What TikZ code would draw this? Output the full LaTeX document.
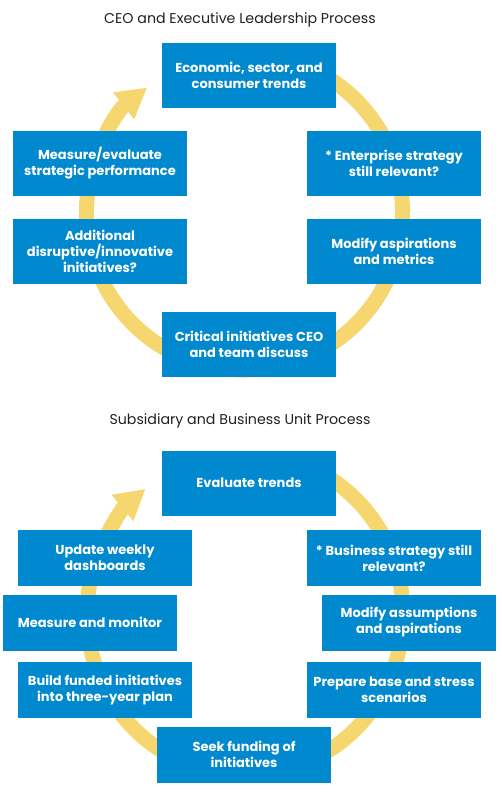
\documentclass[tikz,border=0pt]{standalone}
\usepackage{fontspec}
\setmainfont{Poppins}
\usetikzlibrary{arrows.meta}
\definecolor{boxblue}{RGB}{0,137,207}
\definecolor{ringyellow}{RGB}{246,214,110}
\definecolor{titlegray}{RGB}{35,31,32}

\begin{document}
\begin{tikzpicture}[x=1pt, y=-1pt,
    stepbox/.style={fill=boxblue, text=white, align=center, inner sep=0pt,
        minimum width=174pt, minimum height=65pt,
        font=\bfseries\fontsize{13}{16}\selectfont},
    lowbox/.style={stepbox, minimum height=56pt},
    ring/.style={draw=ringyellow, line width=15pt,
        -{Triangle[width=32pt,length=30pt]}},
    heading/.style={text=titlegray, font=\fontsize{14.2}{17}\selectfont}]
    \useasboundingbox (0,0) rectangle (501,792);

    % CEO cycle:
    % the ring goes first, the boxes sit on top of it
    \node [heading] (ceotitle) at (240,20) {CEO and Executive Leadership Process};
    \coordinate (ceo) at (244.5,212);
    \draw [ring] (ceo) ++(-80:158) arc[start angle=-80, end angle=232, radius=158];

    \node [stepbox] (trends)     at (249,75.5) {Economic, sector, and\\consumer trends};
    \node [stepbox] (measure)    at (100,163)  {Measure/evaluate\\strategic performance};
    \node [stepbox] (enterprise) at (394,163)  {* Enterprise strategy\\still relevant?};
    \node [stepbox] (additional) at (100,251.5) {Additional\\disruptive/innovative\\initiatives?};
    \node [stepbox] (aspire)     at (394,251.5) {Modify aspirations\\and metrics};
    \node [stepbox] (critical)   at (249,344)  {Critical initiatives CEO\\and team discuss};

    % Subsidiary cycle:
    \node [heading] (subtitle) at (240,421) {Subsidiary and Business Unit Process};
    \coordinate (sub) at (245,614);
    \draw [ring] (sub) ++(-70:158 and 161) arc[start angle=-70, end angle=231, x radius=158, y radius=161];

    \node [stepbox] (evaluate)    at (249,483)   {Evaluate trends};
    \node [lowbox]  (dashboards)  at (105,558)   {Update weekly\\dashboards};
    \node [lowbox]  (business)    at (394,558)   {* Business strategy still\\relevant?};
    \node [lowbox]  (monitor)     at (90,622.5)  {Measure and monitor};
    \node [lowbox]  (assumptions) at (409,622.5) {Modify assumptions\\and aspirations};
    \node [lowbox]  (build)       at (105,690)   {Build funded initiatives\\into three-year plan};
    \node [lowbox]  (prepare)     at (394,690)   {Prepare base and stress\\scenarios};
    \node [lowbox]  (funding)     at (244,754.5) {Seek funding of\\initiatives};
\end{tikzpicture}
\end{document}
